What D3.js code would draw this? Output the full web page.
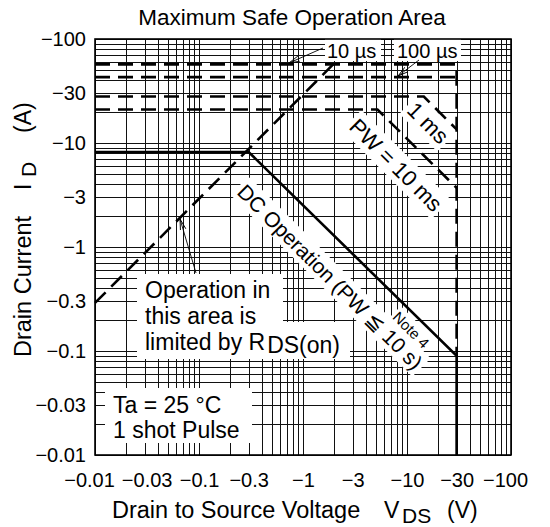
<!DOCTYPE html>
<html><head><meta charset="utf-8">
<script src="https://cdn.jsdelivr.net/npm/d3@7"></script>
<style>
body{margin:0;background:#fff;}
text{font-family:"Liberation Sans",Arial,Helvetica,sans-serif;fill:#000;}
</style>
</head><body>
<svg id="c" width="550" height="527"></svg>
<script>
// ---- data ----
const xTickValues = [0.01, 0.03, 0.1, 0.3, 1, 3, 10, 30, 100];
const xTickLabels = ["−0.01","−0.03","−0.1","−0.3","−1","−3","−10","−30","−100"];
const yTickValues = [0.01, 0.03, 0.1, 0.3, 1, 3, 10, 30, 100];
const yTickLabels = ["−0.01","−0.03","−0.1","−0.3","−1","−3","−10","−30","−100"];

const rdsV    = [0.01, 1.95];          const rdsI    = [0.29, 57];
const pw10usV = [0.01, 30, 30];        const pw10usI = [57, 57, 0.09];
const pw100usV= [0.01, 30];            const pw100usI= [43, 43];
const pw1msV  = [0.01, 14.5, 30];      const pw1msI  = [28, 28, 13.5];
const pw10msV = [0.01, 5.2, 30];       const pw10msI = [21, 21, 3.7];
const dcV     = [0.01, 0.3, 30, 30];   const dcI     = [8.2, 8.2, 0.09, 0.01];

// ---- chart ----
const FONT = '"Liberation Sans",Arial,Helvetica,sans-serif';
const svg = d3.select("#c");
const x = d3.scaleLog().domain([0.01, 100]).range([95, 511]);
const y = d3.scaleLog().domain([0.01, 100]).range([455, 39]);

const gGrid = svg.append("g");
const gBox = svg.append("g");
const gCurve = svg.append("g");
const gText = svg.append("g");

// grid
const px = v => Math.round(v) + 0.5;
gGrid.selectAll("line.v").data(x.ticks()).join("line")
  .attr("x1", d => px(x(d))).attr("x2", d => px(x(d)))
  .attr("y1", 39).attr("y2", 455)
  .attr("stroke", "#111").attr("stroke-width", 1);
gGrid.selectAll("line.h").data(y.ticks()).join("line")
  .attr("y1", d => px(y(d))).attr("y2", d => px(y(d)))
  .attr("x1", 95).attr("x2", 511)
  .attr("stroke", "#111").attr("stroke-width", 1);

// white label backgrounds (plain)
const boxes = [
  [325, 39, 56, 22],   // 10 µs
  [394, 39, 67, 22],   // 100 µs
  [137, 274, 146, 48], // Operation in / this area is
  [137, 322, 213, 37], // limited by RDS(on)
  [105, 388, 147, 55]  // Ta box
];
gBox.selectAll("rect").data(boxes).join("rect")
  .attr("x", d => d[0]).attr("y", d => d[1]).attr("width", d => d[2]).attr("height", d => d[3])
  .attr("fill", "#fff");

// rotated labels with white backgrounds
function rotLabel(txt, cx, cy, ang, size, pad) {
  const tg = gText.append("g").attr("transform", `translate(${cx},${cy}) rotate(${ang})`);
  const t = tg.append("text").attr("text-anchor", "middle").attr("dy", "0.35em")
    .attr("font-size", size).text(txt);
  const b = t.node().getBBox();
  gBox.append("g").attr("transform", `translate(${cx},${cy}) rotate(${ang})`)
    .append("rect").attr("x", b.x - pad).attr("y", b.y - pad + 1)
    .attr("width", b.width + 2 * pad).attr("height", b.height + 2 * pad - 3)
    .attr("rx", 3).attr("fill", "#fff");
}
rotLabel("1 ms", 428, 123, 45, 22, 3);
rotLabel("PW = 10 ms", 396, 165, 45, 22, 3);
rotLabel("DC Operation (PW ≦ 10 s)", 330, 277, 45, 21, 3);
rotLabel("Note 4", 411, 330, 45, 15, 2);

// curves
const line = d3.line().x(d => x(d[0])).y(d => y(d[1]));
const zip = (a, b) => a.map((v, i) => [v, b[i]]);
const dashed = [zip(rdsV, rdsI), zip(pw10usV, pw10usI), zip(pw100usV, pw100usI),
                zip(pw1msV, pw1msI), zip(pw10msV, pw10msI)];
gCurve.selectAll("path.d").data(dashed).join("path")
  .attr("d", line).attr("fill", "none").attr("stroke", "#000")
  .attr("stroke-width", 2.6).attr("stroke-dasharray", "15,8");
gCurve.append("path").datum(zip(dcV, dcI)).attr("d", line)
  .attr("fill", "none").attr("stroke", "#000").attr("stroke-width", 2.6);

// frame
svg.append("rect").attr("x", 95).attr("y", 39).attr("width", 416).attr("height", 416)
  .attr("fill", "none").attr("stroke", "#000").attr("stroke-width", 1.6);

// arrow marker
svg.append("defs").append("marker").attr("id", "ar")
  .attr("markerUnits", "userSpaceOnUse").attr("markerWidth", 12).attr("markerHeight", 8)
  .attr("refX", 11).attr("refY", 4).attr("orient", "auto")
  .append("path").attr("d", "M0,1.2 L11,4 L0,6.8").attr("fill", "none")
  .attr("stroke", "#000").attr("stroke-width", 0.9);
const leaders = [[323, 48, 289, 63], [419, 60, 398, 76], [196, 273, 180, 219]];
gText.selectAll("line.l").data(leaders).join("line")
  .attr("x1", d => d[0]).attr("y1", d => d[1]).attr("x2", d => d[2]).attr("y2", d => d[3])
  .attr("stroke", "#000").attr("stroke-width", 0.9).attr("marker-end", "url(#ar)");

// plain labels
const T = (s, xx, yy, size, anchor) => gText.append("text").attr("x", xx).attr("y", yy)
  .attr("font-size", size).attr("text-anchor", anchor || "start").text(s);
T("10 µs", 327, 58, 20);
T("100 µs", 397, 58, 20);
T("Operation in", 145, 298, 23);
T("this area is", 145, 324, 23);
const lim = T("limited by R", 145, 350, 23);
lim.append("tspan").attr("dx", 2).attr("dy", 3).text("DS(on)");
T("Ta = 25 °C", 113, 413, 23);
T("1 shot Pulse", 113, 438, 23);

// title
T("Maximum Safe Operation Area", 292, 25, 22.5, "middle");

// axes (labels only)
const xAxis = d3.axisBottom(x).tickValues(xTickValues)
  .tickFormat((d, i) => xTickLabels[i]).tickSize(0).tickPadding(18);
const gx = svg.append("g").attr("transform", "translate(0,455)").call(xAxis)
  .attr("font-size", 20).attr("font-family", FONT);
gx.select(".domain").remove();
gx.selectAll("text").attr("dx", (d, i) => i === 0 ? -6 : (i === xTickValues.length - 1 ? -6 : (i === 1 ? 2 : 0)));

const yAxis = d3.axisLeft(y).tickValues(yTickValues)
  .tickFormat((d, i) => yTickLabels[i]).tickSize(0).tickPadding(9);
const gy = svg.append("g").attr("transform", "translate(95,0)").call(yAxis)
  .attr("font-size", 20).attr("font-family", FONT);
gy.select(".domain").remove();

// axis titles
T("Drain to Source Voltage", 112, 518, 23.5);
T("V", 384, 518, 23);
T("DS", 402, 523, 21);
T("(V)", 447, 518, 23);

const R = (s, xx, yy, size) => gText.append("text")
  .attr("transform", `translate(${xx},${yy}) rotate(-90)`)
  .attr("font-size", size).text(s);
R("Drain Current", 31, 357, 23.5);
R("I", 31, 190, 23);
R("D", 36, 177, 21);
R("(A)", 31, 133, 23);
</script>
</body></html>
